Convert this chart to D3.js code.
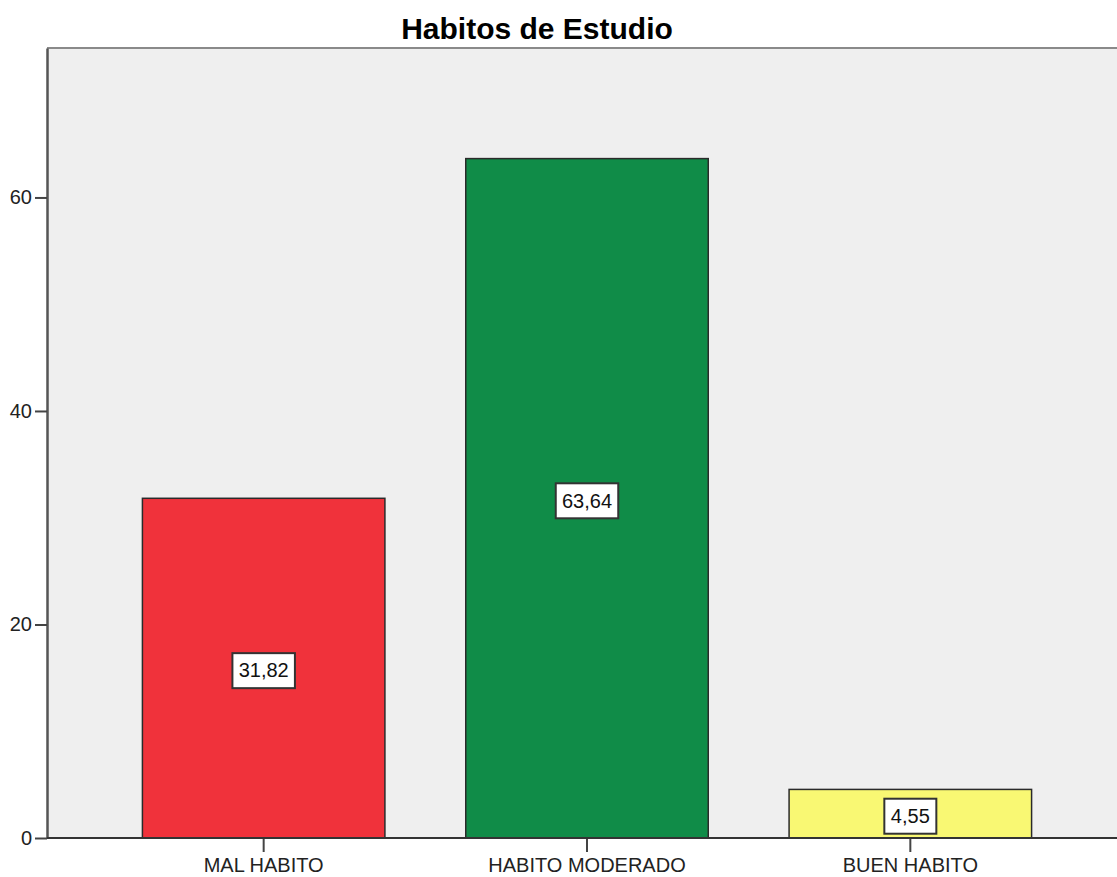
<!DOCTYPE html>
<html>
<head>
 <title>Habitos de Estudio</title>
 <script src="https://d3js.org/d3.v7.min.js"></script>
 <style>
   body { margin: 0; background: #fff; }
   svg { display: block; font-family: "Liberation Sans", Arial, sans-serif; }
 </style>
</head>
<body>
 <div id="chart"></div>
 <script>
   // data
   const categories = ["MAL HABITO", "HABITO MODERADO", "BUEN HABITO"];
   const values = [31.82, 63.64, 4.55];
   const valueLabels = ["31,82", "63,64", "4,55"];
   const colors = ["#f0323b", "#108c48", "#f9f873"];
   const yTicks = [0, 20, 40, 60];

   const W = 1117, H = 877;
   const plot = { left: 47, top: 48, right: 1118, bottom: 838 };

   const svg = d3.select("#chart").append("svg")
     .attr("width", W)
     .attr("height", H);

   const x = d3.scaleBand()
     .domain(categories)
     .range([102, 1072])
     .paddingInner(0.25)
     .paddingOuter(0.125);

   const y = d3.scaleLinear()
     .domain([0, 74])
     .range([plot.bottom, plot.top]);

   // plot background + frame
   svg.append("rect")
     .attr("x", plot.left)
     .attr("y", plot.top)
     .attr("width", plot.right - plot.left)
     .attr("height", plot.bottom - plot.top)
     .attr("fill", "#efefef");
   svg.append("line")
     .attr("x1", plot.left).attr("x2", plot.right)
     .attr("y1", plot.top).attr("y2", plot.top)
     .attr("stroke", "#8a8a8a").attr("stroke-width", 2);

   // title
   svg.append("text")
     .attr("x", 537)
     .attr("y", 39)
     .attr("text-anchor", "middle")
     .attr("font-size", 30)
     .attr("font-weight", "bold")
     .attr("fill", "#000")
     .text("Habitos de Estudio");

   // bars
   svg.selectAll("rect.bar")
     .data(categories)
     .enter()
     .append("rect")
     .attr("class", "bar")
     .attr("x", d => x(d))
     .attr("y", (d, i) => y(values[i]))
     .attr("width", x.bandwidth())
     .attr("height", (d, i) => y(0) - y(values[i]))
     .attr("fill", (d, i) => colors[i])
     .attr("stroke", "#2a2a2a")
     .attr("stroke-width", 1.5);

   // value labels
   const lab = svg.selectAll("g.lab")
     .data(categories)
     .enter()
     .append("g")
     .attr("class", "lab")
     .attr("transform", (d, i) => `translate(${x(d) + x.bandwidth() / 2},${(y(0) + y(values[i])) / 2 + 2})`);
   lab.append("rect")
     .attr("x", (d, i) => -(valueLabels[i].length * 10.5 + 10) / 2)
     .attr("y", -17)
     .attr("width", (d, i) => valueLabels[i].length * 10.5 + 10)
     .attr("height", 35)
     .attr("fill", "#fff")
     .attr("stroke", "#333")
     .attr("stroke-width", 2);
   lab.append("text")
     .attr("text-anchor", "middle")
     .attr("dy", "0.36em")
     .attr("font-size", 20)
     .attr("fill", "#111")
     .text((d, i) => valueLabels[i]);

   // y axis
   const yAxis = svg.append("g")
     .attr("transform", `translate(${plot.left},0)`)
     .call(d3.axisLeft(y).tickValues(yTicks).tickSize(12).tickPadding(3).tickSizeOuter(0));
   yAxis.select(".domain").attr("stroke", "#555").attr("stroke-width", 2.5);
   yAxis.selectAll(".tick line").attr("stroke", "#444").attr("stroke-width", 2);
   yAxis.selectAll(".tick text").attr("font-size", 20).attr("fill", "#222")
     .attr("font-family", "Liberation Sans, Arial, sans-serif");

   // x axis
   const xAxis = svg.append("g")
     .attr("transform", `translate(0,${plot.bottom})`)
     .call(d3.axisBottom(x).tickSize(14).tickPadding(6).tickSizeOuter(0));
   xAxis.select(".domain").remove();
   xAxis.append("line")
     .attr("x1", plot.left).attr("x2", plot.right)
     .attr("stroke", "#333").attr("stroke-width", 2);
   xAxis.selectAll(".tick line").attr("stroke", "#444").attr("stroke-width", 2);
   xAxis.selectAll(".tick text").attr("font-size", 20).attr("fill", "#222")
     .attr("font-family", "Liberation Sans, Arial, sans-serif");
 </script>
</body>
</html>
